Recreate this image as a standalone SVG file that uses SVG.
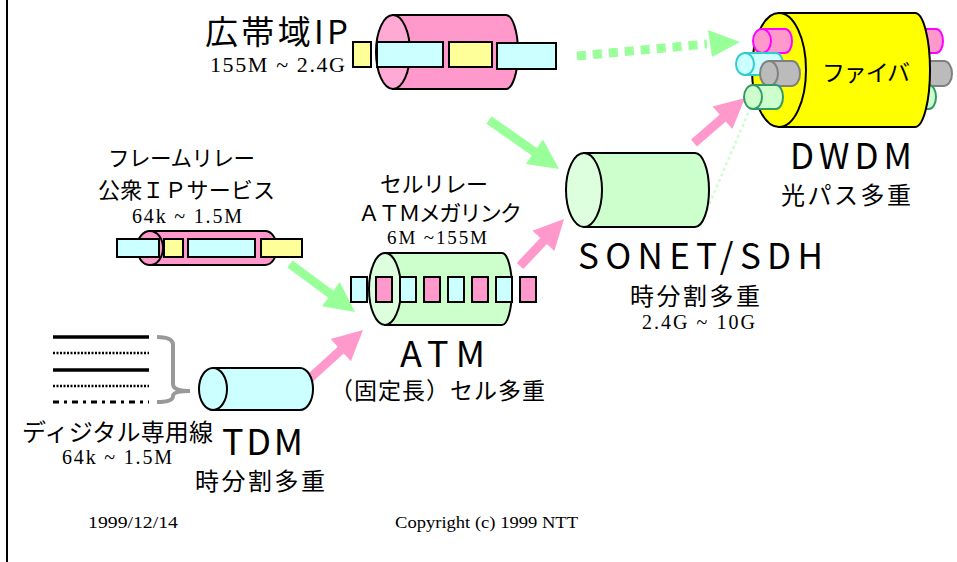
<svg xmlns="http://www.w3.org/2000/svg" width="957" height="562" viewBox="0 0 957 562">
  <style>
    .jp { font-family: "Noto Sans CJK JP", "Noto Sans", sans-serif; fill: #000; }
    .num { font-family: "Liberation Serif", serif; fill: #000; }
    .edge { stroke: #000; stroke-width: 2; }
    .pink { fill: #FF99CC; }
    .pinkCap { fill: #FFAAD5; }
    .green { fill: #CCFFCC; }
    .greenCap { fill: #DDFFDD; }
    .cyan { fill: #CCFFFF; }
    .yellow { fill: #FFFF99; }
    .pkt { stroke: #000; stroke-width: 2; }
    .gshaft { stroke: #99FF99; stroke-width: 9; fill: none; }
    .pshaft { stroke: #FF99CC; stroke-width: 9; fill: none; }
    .ghead { fill: #99FF99; }
    .phead { fill: #FF99CC; }
  </style>

  <rect width="957" height="562" fill="#fff"/>
  <line x1="7" y1="0" x2="7" y2="562" stroke="#000" stroke-width="2"/>

  <!-- connectors -->
  <g id="connectors">
    <!-- IP to DWDM (dotted) -->
    <line class="gshaft" x1="577" y1="56" x2="707" y2="44" stroke-dasharray="9 7"/>
    <polygon class="ghead" points="708,30 740,42 712,57"/>
    <!-- IP to SONET -->
    <line class="gshaft" x1="489" y1="120" x2="536" y2="153"/>
    <polygon class="ghead" points="525.8,164.1 559,169 543,139.5"/>
    <!-- Frame relay to ATM -->
    <line class="gshaft" x1="290" y1="264" x2="332" y2="295"/>
    <polygon class="ghead" points="322,306.3 355,312 339.8,282.1"/>
    <!-- TDM to ATM -->
    <line class="pshaft" x1="308" y1="380" x2="342" y2="349"/>
    <polygon class="phead" points="350.9,361.3 363,330 330.7,339.1"/>
    <!-- ATM to SONET -->
    <line class="pshaft" x1="520" y1="266" x2="545" y2="239.5"/>
    <polygon class="phead" points="554.4,251.1 564,219 532.5,230.7"/>
    <!-- SONET to DWDM -->
    <line class="pshaft" x1="694" y1="143" x2="724" y2="117"/>
    <polygon class="phead" points="732.4,129.1 745,98 712.6,106.6"/>
    <!-- thin optical path from SONET into the green fibre -->
    <line x1="700" y1="226" x2="752" y2="104" stroke="#CCFFCC" stroke-width="2.5" stroke-dasharray="3 3"/>
  </g>

  <!-- Broadband IP -->
  <g id="broadband-ip">
    <text class="jp" x="205" y="44" font-size="33" textLength="143">広帯域IP</text>
    <text class="num" x="210" y="72" font-size="22" textLength="135">155M ~  2.4G</text>
    <path class="pink edge" d="M393,15 L506,15 A12,37 0 0 1 506,89 L393,89 Z"/>
    <ellipse class="pinkCap edge" cx="393" cy="52" rx="17" ry="37"/>
    <rect class="yellow pkt" x="353" y="42" width="18" height="25"/>
    <rect class="cyan pkt" x="377" y="42" width="66" height="25"/>
    <rect class="yellow pkt" x="449" y="42" width="43" height="25"/>
    <rect class="cyan pkt" x="497" y="43" width="59" height="26"/>
  </g>

  <!-- DWDM fibre -->
  <g id="dwdm">
    <!-- fibre ends emerging on the far side -->
    <path d="M900,29 L936,29 A7,12 0 0 1 936,53 L900,53 Z" fill="#FF99CC" stroke="#FF00FF" stroke-width="2"/>
    <path d="M900,61 L944,61 A8,12.5 0 0 1 944,86 L900,86 Z" fill="#BBBBBB" stroke="#808080" stroke-width="2"/>
    <path d="M900,85 L929,85 A7,12 0 0 1 929,109 L900,109 Z" fill="#CCFFCC" stroke="#339966" stroke-width="2"/>
    <path d="M779,13 L915,13 A15,57 0 0 1 915,127 L779,127 Z" fill="#FFFF00" class="edge"/>
    <ellipse cx="779" cy="70" rx="27" ry="57" fill="#FFFF00" class="edge"/>
    <!-- fibre ends on the near side -->
    <path d="M762,29 L785,29 A7,12 0 0 1 785,53 L762,53 Z" fill="#FF99CC" stroke="#FF00FF" stroke-width="2"/>
    <ellipse cx="762" cy="41" rx="9" ry="12" fill="#FF99CC" stroke="#FF00FF" stroke-width="2"/>
    <path d="M745,53 L776,53 A7,11 0 0 1 776,75 L745,75 Z" fill="#CCFFFF" stroke="#33CCCC" stroke-width="2"/>
    <ellipse cx="745" cy="64" rx="9" ry="11" fill="#CCFFFF" stroke="#33CCCC" stroke-width="2"/>
    <path d="M769,61 L792,61 A8,12.5 0 0 1 792,86 L769,86 Z" fill="#BBBBBB" stroke="#808080" stroke-width="2"/>
    <ellipse cx="769" cy="73.5" rx="9" ry="12.5" fill="#BBBBBB" stroke="#808080" stroke-width="2"/>
    <path d="M753,85 L776,85 A7,12 0 0 1 776,109 L753,109 Z" fill="#CCFFCC" stroke="#339966" stroke-width="2"/>
    <ellipse cx="753" cy="97" rx="9" ry="12" fill="#CCFFCC" stroke="#339966" stroke-width="2"/>
    <text class="jp" x="822" y="81" font-size="23" textLength="88">ファイバ</text>
    <text class="jp" x="790" y="169" font-size="35" textLength="122">DWDM</text>
    <text class="jp" x="781" y="204" font-size="24" textLength="130">光パス多重</text>
  </g>

  <!-- Frame relay -->
  <g id="frame-relay">
    <text class="jp" x="108" y="166" font-size="21.5" textLength="147">フレームリレー</text>
    <text class="jp" x="98" y="198" font-size="22" textLength="177">公衆ＩＰサービス</text>
    <text class="num" x="132" y="223" font-size="20" textLength="110">64k ~ 1.5M</text>
    <path class="pink edge" d="M150,231 L265,231 A12,17 0 0 1 265,265 L150,265 Z"/>
    <ellipse class="pink edge" cx="150" cy="248" rx="13" ry="17"/>
    <rect class="cyan pkt" x="117" y="239" width="42" height="18"/>
    <rect class="yellow pkt" x="164" y="239" width="19" height="18"/>
    <rect class="cyan pkt" x="188" y="239" width="67" height="18"/>
    <rect class="yellow pkt" x="261" y="239" width="41" height="18"/>
  </g>

  <!-- ATM -->
  <g id="atm">
    <text class="jp" x="380" y="192" font-size="22" textLength="108">セルリレー</text>
    <text class="jp" x="358" y="221" font-size="22" textLength="164">ＡＴＭメガリンク</text>
    <text class="num" x="387" y="244" font-size="19" textLength="100">6M ~155M</text>
    <path class="green edge" d="M385,253 L502,253 A10,36 0 0 1 502,325 L385,325 Z"/>
    <ellipse class="greenCap edge" cx="385" cy="289" rx="16" ry="36"/>
    <rect class="cyan pkt" x="351" y="277" width="16" height="25"/>
    <rect class="pink pkt" x="376" y="277" width="16" height="25"/>
    <rect class="cyan pkt" x="400" y="277" width="16" height="25"/>
    <rect class="pink pkt" x="424" y="277" width="16" height="25"/>
    <rect class="cyan pkt" x="448" y="277" width="16" height="25"/>
    <rect class="pink pkt" x="472" y="277" width="16" height="25"/>
    <rect class="cyan pkt" x="496" y="277" width="16" height="25"/>
    <rect class="pink pkt" x="520" y="277" width="16" height="25"/>
    <text class="jp" x="400" y="367" font-size="36" textLength="85">ATM</text>
    <text class="jp" x="330" y="399" font-size="23" textLength="215">（固定長）セル多重</text>
  </g>

  <!-- SONET / SDH -->
  <g id="sonet-sdh">
    <path class="green edge" d="M584,153 L695,153 A14,37 0 0 1 695,227 L584,227 Z"/>
    <ellipse class="greenCap edge" cx="584" cy="190" rx="18" ry="37"/>
    <text class="jp" x="578" y="269" font-size="35" textLength="245">SONET/SDH</text>
    <text class="jp" x="630" y="305" font-size="24" textLength="130">時分割多重</text>
    <text class="num" x="642" y="329" font-size="20" textLength="113">2.4G ~ 10G</text>
  </g>

  <!-- Digital leased lines -->
  <g id="leased-lines">
    <line x1="53" y1="337" x2="149" y2="337" stroke="#000" stroke-width="3.5"/>
    <line x1="53" y1="353" x2="149" y2="353" stroke="#000" stroke-width="2.5" stroke-dasharray="2 1.5"/>
    <line x1="53" y1="370" x2="149" y2="370" stroke="#000" stroke-width="3.5"/>
    <line x1="53" y1="386" x2="149" y2="386" stroke="#000" stroke-width="2.5" stroke-dasharray="2 1.5"/>
    <line x1="53" y1="402" x2="149" y2="402" stroke="#000" stroke-width="3" stroke-dasharray="6 5 3 5"/>
    <path d="M157,337 Q173,337 173,345 L173,384 Q173,391 190,391 Q173,391 173,396 Q173,402 157,402" fill="none" stroke="#999999" stroke-width="4"/>
    <text class="jp" x="22" y="441" font-size="24" textLength="191">ディジタル専用線</text>
    <text class="num" x="62" y="464" font-size="20" textLength="110">64k ~ 1.5M</text>
  </g>

  <!-- TDM -->
  <g id="tdm">
    <path class="cyan edge" d="M213,368 L300,368 A13,21 0 0 1 300,410 L213,410 Z"/>
    <ellipse class="cyan edge" cx="213" cy="389" rx="14" ry="21"/>
    <text class="jp" x="222" y="455" font-size="36" textLength="81">TDM</text>
    <text class="jp" x="195" y="490" font-size="24" textLength="130">時分割多重</text>
  </g>

  <!-- footer -->
  <g id="footer">
    <text class="num" x="88" y="528" font-size="17" textLength="90" lengthAdjust="spacingAndGlyphs">1999/12/14</text>
    <text class="num" x="395" y="528" font-size="17" textLength="183" lengthAdjust="spacingAndGlyphs">Copyright (c) 1999 NTT</text>
  </g>
</svg>
